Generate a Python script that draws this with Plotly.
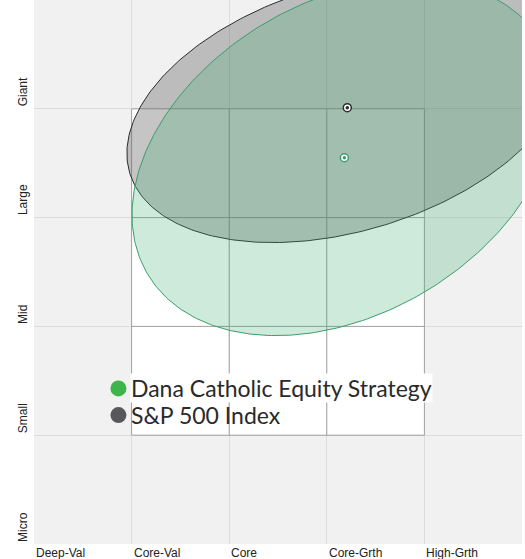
import numpy as np
import plotly.graph_objects as go

# ---- data ----
style_labels = ["Deep-Val", "Core-Val", "Core", "Core-Grth", "High-Grth"]
size_labels = ["Micro", "Small", "Mid", "Large", "Giant"]

series_names = ["S&P 500 Index", "Dana Catholic Equity Strategy"]
center_x = [3.21, 3.18]
center_y = [4.01, 3.55]
semi_major = [2.31, 2.29]
semi_minor = [1.14, 1.47]
angle_deg = [14.0, 24.0]

line_colors = ["#2b2b2b", "#3a9d6e"]
fill_colors = ["rgba(95,95,95,0.36)", "rgba(60,170,110,0.25)"]
legend_colors = ["#58585a", "#3db54a"]

fig = go.Figure()

# ellipses
t = np.linspace(0, 2 * np.pi, 361)
for i in range(2):
    ph = np.deg2rad(angle_deg[i])
    a, b = semi_major[i], semi_minor[i]
    ex = center_x[i] + a * np.cos(t) * np.cos(ph) - b * np.sin(t) * np.sin(ph)
    ey = center_y[i] + a * np.cos(t) * np.sin(ph) + b * np.sin(t) * np.cos(ph)
    fig.add_trace(go.Scatter(x=ex, y=ey, mode="lines", fill="toself",
                             fillcolor=fill_colors[i],
                             line=dict(color=line_colors[i], width=1),
                             hoverinfo="skip", showlegend=False))

# centroids
for i in range(2):
    fig.add_trace(go.Scatter(x=[center_x[i]], y=[center_y[i]], mode="markers",
                             marker=dict(size=8, color="white",
                                         line=dict(color=line_colors[i], width=1.5)),
                             showlegend=False, hoverinfo="skip", cliponaxis=False))
    fig.add_trace(go.Scatter(x=[center_x[i]], y=[center_y[i]], mode="markers",
                             marker=dict(size=3.5, color=line_colors[i]),
                             showlegend=False, hoverinfo="skip", cliponaxis=False))

shapes = []
# white style box
shapes.append(dict(type="rect", xref="x", yref="y", x0=1, x1=4, y0=1, y1=4,
                   fillcolor="white", line=dict(width=0), layer="below"))
# inner grid/box lines
for v in [1, 2, 3, 4]:
    shapes.append(dict(type="line", xref="x", yref="y", x0=v, x1=v, y0=1, y1=4,
                       line=dict(color="#a3a3a3", width=1), layer="between"))
    shapes.append(dict(type="line", xref="x", yref="y", x0=1, x1=4, y0=v, y1=v,
                       line=dict(color="#a3a3a3", width=1), layer="between"))

annotations = []
for i, lab in enumerate(style_labels):
    annotations.append(dict(x=i, y=0, xref="x", yref="y", text=lab, showarrow=False,
                            xanchor="left", yanchor="top", yshift=0,
                            font=dict(family="Liberation Sans, Arial", size=12, color="#222")))
for i, lab in enumerate(size_labels):
    annotations.append(dict(x=0, y=i, xref="x", yref="y", text=lab, showarrow=False,
                            textangle=-90, xanchor="right", yanchor="bottom",
                            xshift=-2,
                            font=dict(family="Liberation Sans, Arial", size=12, color="#222")))

# legend (custom)
leg_order = [1, 0]
for row, idx in enumerate(leg_order):
    yy = [1.43, 1.185][row]
    fig.add_trace(go.Scatter(x=[0.865], y=[yy], mode="markers",
                             marker=dict(size=16, color=legend_colors[idx]),
                             showlegend=False, hoverinfo="skip"))
    annotations.append(dict(x=0.98, y=yy, xref="x", yref="y", text=series_names[idx],
                            showarrow=False, xanchor="left", yanchor="middle",
                            bgcolor="white" if row == 0 else "rgba(0,0,0,0)",
                            borderpad=0,
                            font=dict(family="Lato", size=23, color="#2a2a2a")))

fig.update_layout(
    width=525, height=559,
    margin=dict(l=34, r=3, t=0, b=15),
    paper_bgcolor="white", plot_bgcolor="#f1f1f1",
    xaxis=dict(range=[0, 5], tickvals=[0, 1, 2, 3, 4, 5], showticklabels=False,
               showgrid=True, gridcolor="#dcdcdc", gridwidth=1, zeroline=False,
               showline=False, fixedrange=True),
    yaxis=dict(range=[0, 5], tickvals=[0, 1, 2, 3, 4, 5], showticklabels=False,
               showgrid=True, gridcolor="#dcdcdc", gridwidth=1, zeroline=False,
               showline=False, fixedrange=True),
    shapes=shapes, annotations=annotations, showlegend=False,
)

fig.write_html("out.html", config={"displayModeBar": False},
               post_script="document.body.style.margin='0';document.body.style.overflow='hidden';")
